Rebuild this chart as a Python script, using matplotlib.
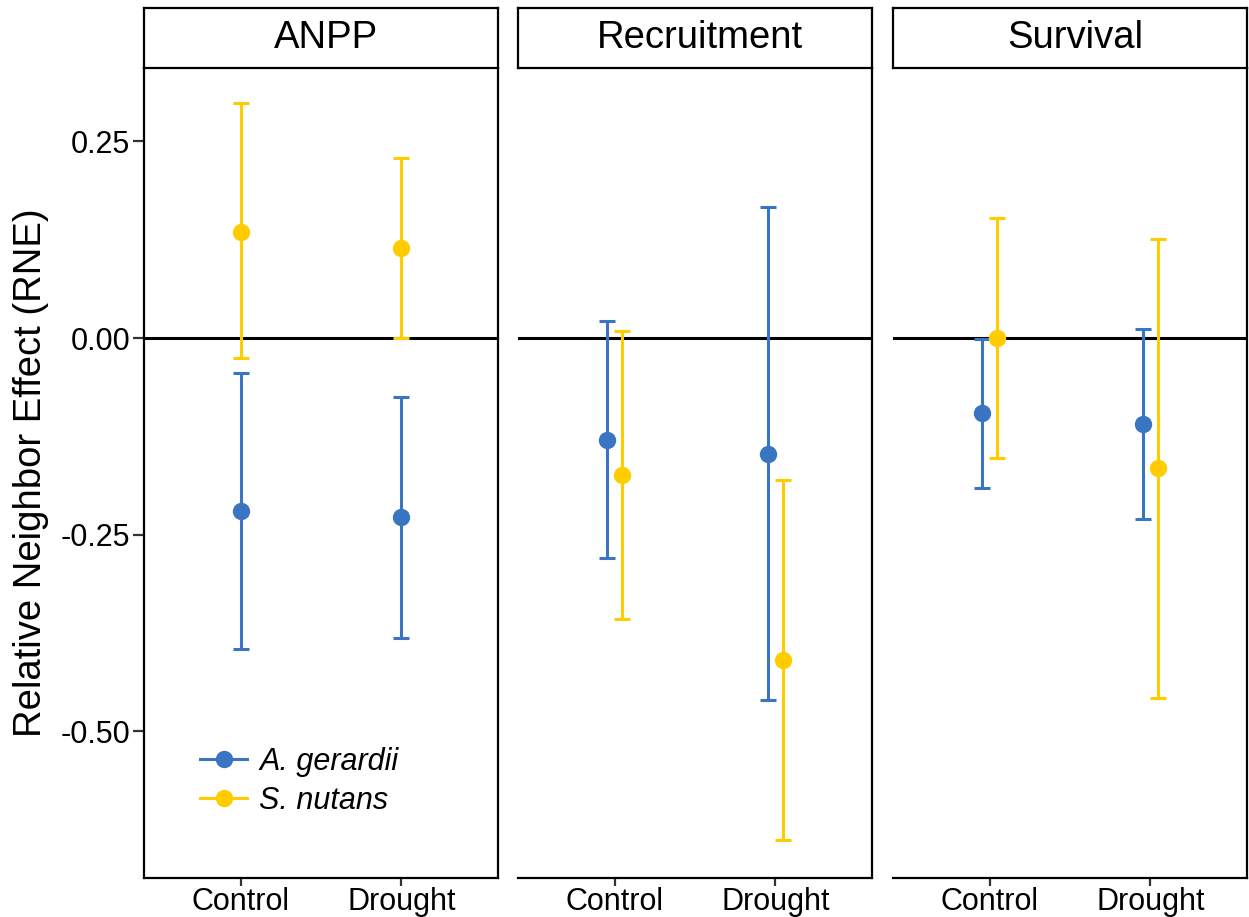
import matplotlib.pyplot as plt
from matplotlib.lines import Line2D

plt.rcParams['font.family'] = ['Liberation Sans', 'DejaVu Sans']

panels = ['ANPP', 'Recruitment', 'Survival']
treatments = ['Control', 'Drought']
species = ['A. gerardii', 'S. nutans']
colors = ['#3A75C4', '#FFCC00']

# mean, lower, upper per panel -> species -> treatment
gerardii_mean = [[-0.220, -0.228], [-0.130, -0.147], [-0.095, -0.109]]
gerardii_low = [[-0.395, -0.381], [-0.280, -0.460], [-0.191, -0.230]]
gerardii_high = [[-0.045, -0.075], [0.022, 0.167], [-0.001, 0.011]]

nutans_mean = [[0.135, 0.114], [-0.174, -0.409], [0.000, -0.165]]
nutans_low = [[-0.025, 0.000], [-0.357, -0.638], [-0.153, -0.458]]
nutans_high = [[0.299, 0.229], [0.009, -0.180], [0.153, 0.126]]

# ANPP points were not dodged in the original
dodge = [0.0, 0.047, 0.047]

W, H = 1249, 917
fig = plt.figure(figsize=(W / 100, H / 100), dpi=100)

lefts = [144, 518, 893]
pw = 354
top, bottom = 68, 878

series = [(gerardii_mean, gerardii_low, gerardii_high),
          (nutans_mean, nutans_low, nutans_high)]

axes = []
for i, name in enumerate(panels):
    ax = fig.add_axes([lefts[i] / W, 1 - bottom / H, pw / W, (bottom - top) / H])
    axes.append(ax)
    ax.axhline(0, color='black', lw=2.2, zorder=1)
    for s, (m, lo, hi) in enumerate(series):
        off = -dodge[i] if s == 0 else dodge[i]
        xs = [k + 1 + off for k in range(2)]
        ym = m[i]
        yerr = [[ym[k] - lo[i][k] for k in range(2)],
                [hi[i][k] - ym[k] for k in range(2)]]
        ax.errorbar(xs, ym, yerr=yerr, fmt='o', color=colors[s], ms=11.5,
                    elinewidth=2.2, capsize=5.8, capthick=2.2, zorder=3)
    ax.set_xlim(0.4, 2.6)
    ax.set_ylim(-0.6864, 0.3432)
    ax.set_xticks([1, 2])
    ax.set_xticklabels(treatments, fontsize=22)
    ax.set_yticks([0.25, 0.0, -0.25, -0.5])
    ax.set_yticklabels(['0.25', '0.00', '-0.25', '-0.50'], fontsize=22)
    ax.tick_params(axis='y', length=8, width=1.6, color='#333333', pad=2)
    ax.tick_params(axis='x', length=6, width=1.6, color='#333333', pad=0.5)
    ax.spines['top'].set_visible(False)
    for sp in ax.spines.values():
        sp.set_linewidth(1.6)
    if i > 0:
        ax.spines['left'].set_visible(False)
        ax.tick_params(axis='y', left=False, labelleft=False)

    # strip
    sax = fig.add_axes([lefts[i] / W, 1 - top / H, pw / W, 60 / H])
    sax.set_xticks([])
    sax.set_yticks([])
    for sp in sax.spines.values():
        sp.set_linewidth(1.6)
    sax.text(0.5 + 5 / pw, 0.5, name, ha='center', va='center', fontsize=27.5,
             transform=sax.transAxes)

axes[0].set_ylabel('Relative Neighbor Effect (RNE)', fontsize=27.5, labelpad=8)

handles = [Line2D([0], [0], color=c, lw=2.2, marker='o', ms=11.5) for c in colors]
axes[0].legend(handles, species, loc='lower left', bbox_to_anchor=(0.08, 0.043),
               frameon=False, prop={'size': 22, 'style': 'italic'},
               handlelength=1.55, handletextpad=0.4, labelspacing=0.3)

fig.savefig('out.png', dpi=100)
